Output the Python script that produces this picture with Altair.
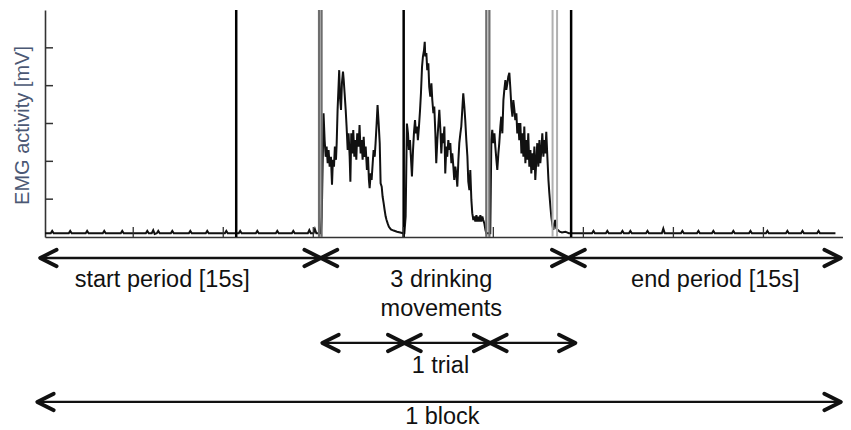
import altair as alt
import pandas as pd

# ---------------- data (time in s, EMG activity in mV) ----------------
start_rest = [(0.10,0.10),(0.42,0.10),(0.50,0.16),(0.58,0.10),(1.42,0.10),(1.50,0.16),(1.58,0.10),
    (2.36,0.10),(2.44,0.16),(2.52,0.10),(3.31,0.10),(3.39,0.16),(3.47,0.10),(4.31,0.10),(4.39,0.16),
    (4.47,0.10),(5.70,0.10),(5.78,0.16),(5.86,0.10),(6.03,0.10),(6.11,0.18),(6.19,0.08),(6.31,0.10),
    (6.39,0.16),(6.47,0.10),(7.09,0.10),(7.17,0.16),(7.25,0.10),(8.09,0.10),(8.17,0.16),(8.25,0.10),
    (9.03,0.10),(9.11,0.16),(9.19,0.10),(10.09,0.10),(10.17,0.16),(10.25,0.10),(10.86,0.10),(10.94,0.16),
    (11.02,0.10),(11.81,0.10),(11.89,0.16),(11.97,0.10),(12.92,0.10),(13.00,0.16),(13.08,0.10),
    (13.81,0.10),(13.89,0.16),(13.97,0.10),(14.70,0.10),(14.78,0.18),(14.86,0.10),(15.01,0.10),
    (15.09,0.21),(15.17,0.10),(15.42,0.10),(15.47,0.53)]

trial_1 = [(15.57,3.27),(15.63,2.56),(15.69,2.12),(15.74,2.39),(15.80,1.95),(15.85,2.30),(15.91,1.86),
    (15.98,2.12),(16.04,1.38),(16.09,2.04),(16.15,1.86),(16.20,2.39),(16.26,2.04),(16.30,2.48),(16.35,3.36),
    (16.41,4.06),(16.44,4.41),(16.48,3.71),(16.54,3.36),(16.59,4.06),(16.65,4.37),(16.69,4.15),(16.74,3.80),
    (16.80,3.36),(16.85,2.92),(16.91,2.30),(16.96,2.74),(17.02,2.12),(17.06,1.46),(17.11,2.74),(17.17,2.21),
    (17.22,2.83),(17.28,2.12),(17.33,2.56),(17.39,2.04),(17.44,2.74),(17.52,2.39),(17.57,2.96),(17.63,2.21),
    (17.68,2.56),(17.74,2.04),(17.80,2.65),(17.85,2.12),(17.91,2.39),(17.98,1.77),(18.04,2.12),(18.09,1.51),
    (18.13,1.29),(18.19,1.68),(18.24,1.51),(18.30,1.95),(18.35,2.30),(18.41,2.12),(18.46,2.48),(18.52,3.01),
    (18.57,3.49),(18.63,3.01),(18.69,2.48),(18.74,1.42),(18.80,1.33),(18.85,1.07),(18.91,0.89),(18.96,0.72),
    (19.02,0.54),(19.07,0.45),(19.13,0.36),(19.20,0.27),(19.31,0.20),(19.46,0.17),(19.65,0.14),(19.83,0.12),
    (19.98,0.10)]

trial_2 = [(20.06,0.10),(20.13,0.54),(20.20,3.00),(20.26,2.74),(20.31,2.30),(20.37,2.56),(20.43,2.04),
    (20.48,1.60),(20.54,2.30),(20.59,2.74),(20.65,3.09),(20.70,2.74),(20.76,2.92),(20.81,2.56),(20.87,2.92),
    (20.93,3.36),(20.98,3.80),(21.04,4.50),(21.09,4.77),(21.15,4.94),(21.19,5.16),(21.22,4.77),(21.28,4.86),
    (21.33,4.41),(21.39,4.59),(21.44,3.97),(21.50,3.71),(21.56,4.06),(21.61,3.62),(21.67,3.27),(21.72,3.45),
    (21.78,2.74),(21.83,1.95),(21.89,2.56),(21.94,2.92),(22.00,3.36),(22.06,2.83),(22.11,2.21),(22.17,2.74),
    (22.22,2.48),(22.28,2.92),(22.33,1.68),(22.39,2.39),(22.44,2.12),(22.50,2.56),(22.56,2.30),(22.61,2.48),
    (22.67,1.95),(22.72,2.21),(22.78,1.86),(22.83,1.51),(22.89,1.86),(22.94,1.68),(23.00,1.33),(23.06,2.04),
    (23.11,2.48),(23.17,2.74),(23.22,2.92),(23.28,3.40),(23.33,3.80),(23.39,3.45),(23.44,3.09),(23.50,2.56),
    (23.56,2.12),(23.61,1.46),(23.67,1.24),(23.72,1.77),(23.78,0.98),(23.83,0.63),(23.89,0.45),(23.94,0.54),
    (24.00,0.41),(24.06,0.58),(24.11,0.41),(24.17,0.54),(24.22,0.41),(24.28,0.58),(24.33,0.41),(24.39,0.54),
    (24.44,0.45),(24.50,0.36),(24.56,0.19),(24.61,0.10),(24.70,0.10)]

trial_3 = [(24.83,0.10),(24.89,2.56),(24.94,2.83),(25.00,2.48),(25.06,2.74),(25.11,2.39),(25.17,2.04),
    (25.22,1.77),(25.28,2.21),(25.33,2.48),(25.39,2.92),(25.44,3.18),(25.50,2.74),(25.56,3.62),(25.61,3.89),
    (25.67,4.15),(25.72,3.89),(25.78,4.06),(25.83,4.24),(25.89,4.34),(25.94,3.97),(26.00,3.45),(26.06,3.18),
    (26.11,3.62),(26.17,3.36),(26.22,3.09),(26.28,3.27),(26.33,2.74),(26.39,3.01),(26.44,2.56),(26.50,3.01),
    (26.56,2.21),(26.61,2.74),(26.67,2.12),(26.72,2.92),(26.78,1.95),(26.83,2.56),(26.89,2.04),(26.94,2.74),
    (27.00,1.86),(27.06,2.30),(27.11,1.68),(27.17,2.21),(27.22,1.77),(27.28,2.39),(27.33,1.51),(27.39,2.04),
    (27.44,2.48),(27.50,1.86),(27.56,2.56),(27.61,1.95),(27.67,2.30),(27.72,2.74),(27.78,2.12),(27.83,2.56),
    (27.89,2.21),(27.94,2.78),(28.00,2.12),(28.06,1.51),(28.11,1.16),(28.17,0.80),(28.22,0.54),(28.28,0.32),
    (28.33,0.19),(28.39,0.36),(28.44,0.45),(28.50,0.23),(28.57,0.19),(28.69,0.14),(28.81,0.12),(29.00,0.14),
    (29.19,0.10)]

end_rest = [(29.50,0.10),(30.48,0.10),(30.56,0.16),(30.64,0.10),(31.25,0.10),(31.33,0.16),(31.41,0.10),
    (32.09,0.10),(32.17,0.16),(32.25,0.10),(32.53,0.10),(32.61,0.16),(32.69,0.10),(33.48,0.10),(33.56,0.16),
    (33.64,0.10),(34.36,0.10),(34.44,0.22),(34.52,0.10),(35.42,0.10),(35.50,0.16),(35.58,0.10),(36.31,0.10),
    (36.39,0.16),(36.47,0.10),(37.14,0.10),(37.22,0.16),(37.30,0.10),(38.25,0.10),(38.33,0.16),(38.41,0.10),
    (39.20,0.10),(39.28,0.16),(39.36,0.10),(40.14,0.10),(40.22,0.16),(40.30,0.10),(41.25,0.10),(41.33,0.16),
    (41.41,0.10),(42.09,0.10),(42.17,0.16),(42.25,0.10),(42.98,0.10),(43.06,0.16),(43.14,0.10),(44.00,0.10)]

marker_t = [10.72, 15.32, 15.46, 20.02, 24.61, 24.78, 28.29, 28.54, 29.32]
marker_kind = ["event", "sync", "sync", "event", "sync", "sync", "light", "light", "event"]

y_ticks = [1, 2, 3, 4, 5]
x_ticks = [5, 10, 15, 20, 25, 30, 35, 40]

arrow_from = [-0.17, 15.42, 29.17, 15.50, 20.06, 24.83, -0.33]
arrow_to = [15.42, 29.17, 44.30, 20.06, 24.83, 29.56, 44.30]
arrow_level = [-0.555, -0.555, -0.555, -2.80, -2.80, -2.80, -4.36]

label_text = ["start period [15s]", "3 drinking", "end period [15s]", "movements", "1 trial", "1 block"]
label_t = [6.61, 22.11, 37.33, 22.11, 22.06, 22.17]
label_v = [-1.32, -1.32, -1.32, -2.09, -3.595, -4.95]

# ---------------- tables ----------------
trace = pd.DataFrame(start_rest + trial_1 + trial_2 + trial_3 + end_rest, columns=["t", "v"])
markers = pd.DataFrame({"t": marker_t, "kind": marker_kind})
yt = pd.DataFrame({"v": y_ticks})
xt = pd.DataFrame({"t": x_ticks})
shafts = pd.DataFrame({"x0": arrow_from, "x1": arrow_to, "lvl": arrow_level})
heads = pd.DataFrame({
    "t": arrow_from + arrow_to,
    "lvl": arrow_level + arrow_level,
    "dir": ["left"] * len(arrow_from) + ["right"] * len(arrow_to),
})
labels = pd.DataFrame({"t": label_t, "v": label_v, "text": label_text})

FONT = "Liberation Sans"
xs = alt.Scale(domain=[0.1, 44.42], nice=False, zero=False)
ys = alt.Scale(domain=[0, 6], nice=False, zero=False)
XAX = alt.Axis(title=None, labels=False, ticks=False, grid=False, domainColor="#333", domainWidth=1.6)
YAX = alt.Axis(title="EMG activity [mV]", labels=False, ticks=False, grid=False,
               domainColor="#333", domainWidth=1.6, titleFont=FONT, titleFontSize=20,
               titleFontWeight="normal", titleColor="#4b5874", titleAngle=270,
               titleX=-23, titleY=115, titleAlign="center", titleBaseline="middle")


def X(f):
    return alt.X(f, scale=xs, axis=XAX)


def Y(f):
    return alt.Y(f, scale=ys, axis=YAX)


line = alt.Chart(trace).mark_line(color="#111", strokeWidth=2.0, strokeJoin="miter").encode(
    x=X("t:Q"), y=Y("v:Q"))

rules = alt.Chart(markers).mark_rule().encode(
    x=X("t:Q"),
    color=alt.Color("kind:N", scale=alt.Scale(domain=["event", "sync", "light"],
                                              range=["#000000", "#6e6e6e", "#b0b0b0"]), legend=None),
    strokeWidth=alt.StrokeWidth("kind:N", scale=alt.Scale(domain=["event", "sync", "light"],
                                                          range=[2.5, 2.0, 1.3]), legend=None),
)

ytick = alt.Chart(yt).mark_rule(color="#333", strokeWidth=1.5).encode(
    y=Y("v:Q"), x=alt.value(0), x2=alt.value(8))

xtick = alt.Chart(xt).mark_rule(color="#333", strokeWidth=1.3).encode(
    x=X("t:Q"), y=alt.value(227), y2=alt.value(217))

shaft = alt.Chart(shafts).mark_rule(color="#111", strokeWidth=2.3).encode(
    x=X("x0:Q"), x2="x1:Q", y=Y("lvl:Q"))

LEFT = "M2,-1L0,0L2,1"
RIGHT = "M-2,-1L0,0L-2,1"
head = alt.Chart(heads).mark_point(filled=False, size=272, strokeWidth=3.8, opacity=1,
                                   color="#111", strokeJoin="round", strokeCap="round").encode(
    x=X("t:Q"), y=Y("lvl:Q"),
    shape=alt.Shape("dir:N", scale=alt.Scale(domain=["left", "right"], range=[LEFT, RIGHT]), legend=None),
)

text = alt.Chart(labels).mark_text(font=FONT, fontSize=23.5, align="center", baseline="alphabetic",
                                   color="#111").encode(
    x=X("t:Q"), y=Y("v:Q"), text="text:N")

chart = alt.layer(line, rules, ytick, xtick, shaft, head, text).properties(
    width=798, height=227,
    autosize=alt.AutoSizeParams(type="none"),
    padding={"left": 37, "top": 2, "right": 0, "bottom": 193},
).configure_view(stroke=None)

chart.save("out.html", embed_options={"renderer": "svg", "actions": False})
